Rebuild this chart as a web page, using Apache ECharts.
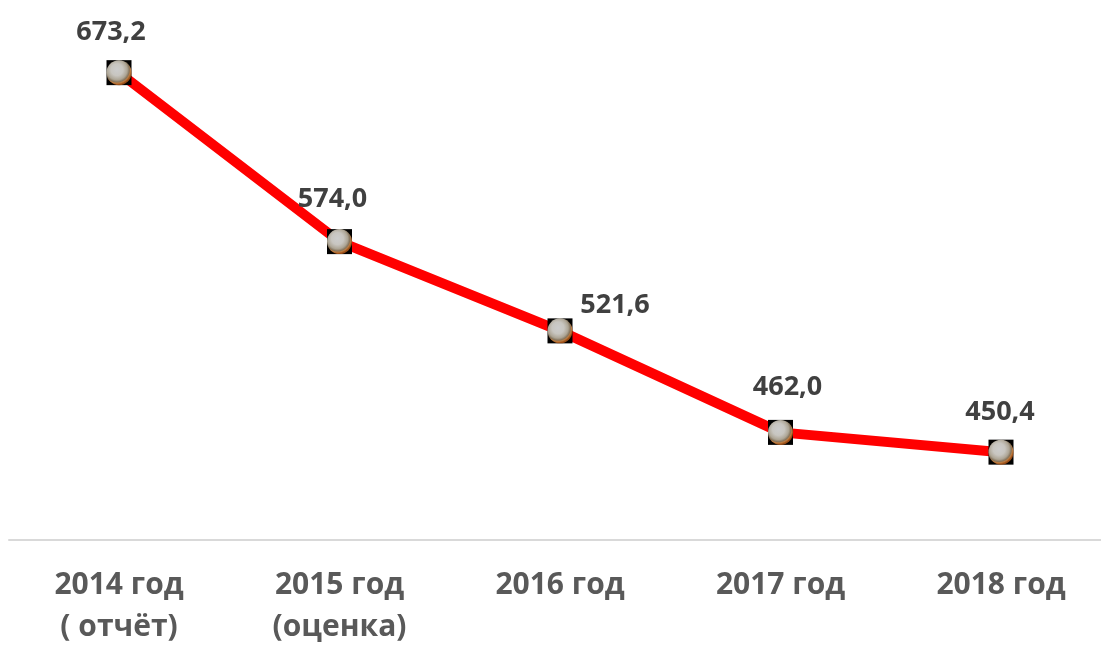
<!DOCTYPE html>
<html><head><meta charset="utf-8">
<script src="https://cdn.jsdelivr.net/npm/echarts@6/dist/echarts.min.js"></script>
<style>html,body{margin:0;padding:0;background:#fff}#c{width:1101px;height:648px}</style>
</head><body><div id="c"></div>
<script>
const categories = ['2014 год\n( отчёт)', '2015 год\n(оценка)', '2016 год', '2017 год', '2018 год'];
const values = [673.2, 574.0, 521.6, 462.0, 450.4];
const labelOffsets = [[-8, 0], [-7, -2], [55, 14], [7, -5], [-1, 0]];

const chart = echarts.init(document.getElementById('c'));
const sphere = {
  type: 'radial', x: 0.42, y: 0.38, r: 0.6,
  colorStops: [
    {offset: 0, color: '#ffffff'},
    {offset: 0.4, color: '#faf7f0'},
    {offset: 0.68, color: '#d8ceba'},
    {offset: 0.82, color: '#a89274'},
    {offset: 0.9, color: '#eb9a50'},
    {offset: 1, color: '#c0601a'}
  ]
};
chart.setOption({
  animation: false,
  grid: [
    {left: 119, right: 100, top: 27, bottom: 108},
    {left: 9, right: 0, top: 27, bottom: 108}
  ],
  xAxis: [
    {
      type: 'category', data: categories, boundaryGap: false, gridIndex: 0,
      axisLine: {show: false},
      axisTick: {show: false},
      axisLabel: {color: '#595959', fontFamily: 'Open Sans', fontWeight: 'bold', fontSize: 30, lineHeight: 42, margin: 26}
    },
    {
      type: 'category', data: categories, boundaryGap: true, gridIndex: 1,
      axisLine: {lineStyle: {color: '#d9d9d9', width: 2}},
      axisTick: {show: false}, axisLabel: {show: false}
    }
  ],
  yAxis: [
    {type: 'value', min: 400, max: 700, show: false, gridIndex: 0},
    {type: 'value', min: 400, max: 700, show: false, gridIndex: 1}
  ],
  series: [
    {
      type: 'line', data: values,
      lineStyle: {color: '#ff0000', width: 10},
      symbol: 'rect', symbolSize: 25,
      itemStyle: {color: '#000000'},
      z: 2,
      label: {
        show: true, position: 'top', distance: 14,
        color: '#404040', fontFamily: 'Open Sans', fontWeight: 'bold', fontSize: 27,
        formatter: p => p.value.toFixed(1).replace('.', ',')
      },
      labelLayout: p => ({dx: labelOffsets[p.dataIndex][0], dy: labelOffsets[p.dataIndex][1]})
    },
    {
      type: 'scatter', data: values, symbol: 'circle', symbolSize: 25,
      itemStyle: {color: sphere}, z: 3, silent: true
    }
  ]
});
</script></body></html>
